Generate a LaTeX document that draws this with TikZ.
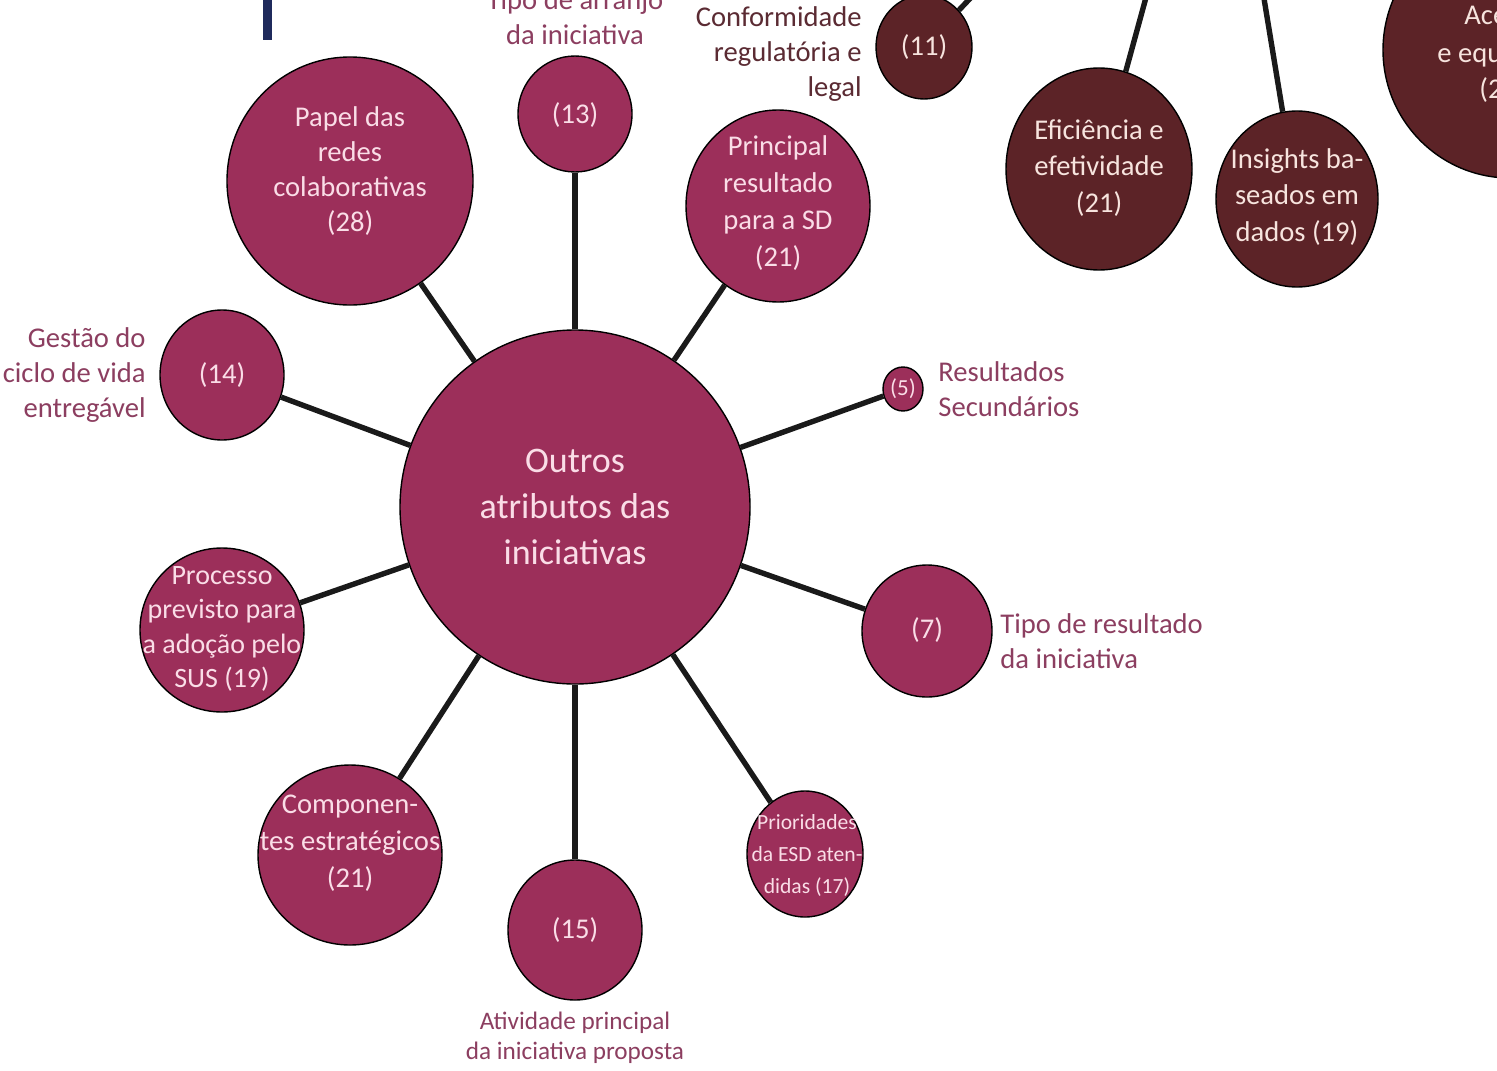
\documentclass[tikz,border=0pt]{standalone}
\usepackage{fontspec}
\setmainfont{Carlito}
\usetikzlibrary{shapes.geometric}
\definecolor{pinkc}{HTML}{9C2F5A}
\definecolor{darkc}{HTML}{5C2327}
\definecolor{labelc}{HTML}{8C3E60}
\definecolor{labeldk}{HTML}{5B2B33}
\definecolor{intext}{HTML}{FADDE7}
\definecolor{intextdk}{HTML}{F7E4DE}
\definecolor{linec}{HTML}{1A1A1A}
\definecolor{navyc}{HTML}{1F2A5C}
\begin{document}
\begin{tikzpicture}[x=0.5pt,y=-0.5pt,
  sz/.style 2 args={minimum width=#1pt, minimum height=#2pt},
  pk/.style={ellipse, draw=black, line width=0.7pt, fill=pinkc, inner sep=0pt},
  dk/.style={ellipse, draw=black, line width=0.7pt, fill=darkc, inner sep=0pt},
  conn/.style={line width=2.7pt, draw=linec},
  fnorm/.style={font=\fontsize{14.3}{17.5}\selectfont},
  fwide/.style={font=\fontsize{14.3}{18.4}\selectfont},
  intxt/.style={fnorm, text=intext, align=center, inner sep=0pt},
  indk/.style={fwide, text=intextdk, align=center, inner sep=0pt},
  lab/.style={fnorm, text=labelc, align=center, inner sep=0pt},
  labdk/.style={fnorm, text=labeldk, align=right, inner sep=0pt}]
\useasboundingbox (0,0) rectangle (1497,1070);
\clip (0,0) rectangle (1497,1070);
\fill[white] (0,0) rectangle (1497,1070);

% navy bar
\fill[navyc] (263,-5) rectangle (272,40);

% circles
\node[pk, sz={175}{177}] (c) at (575,507) {};
\node[pk, sz={123}{124}] (papel) at (350,181) {};
\node[pk, sz={57}{58}] (n13) at (575,114) {};
\node[pk, sz={92}{96}] (princ) at (778,206) {};
\node[dk, sz={48}{52}] (n11) at (924,47) {};
\node[dk, sz={93}{101}] (efic) at (1099,169) {};
\node[dk, sz={81}{88}] (ins) at (1297,199) {};
\node[dk, sz={127}{128}] (aces) at (1510,50) {};
\node[pk, sz={62}{65}] (n14) at (222,375) {};
\node[pk, sz={20}{22}] (n5) at (903,389) {};
\node[pk, sz={65}{66}] (n7) at (927,631) {};
\node[pk, sz={82}{82}] (proc) at (222,630) {};
\node[pk, sz={92}{90}] (comp) at (350,855) {};
\node[pk, sz={67}{70}] (n15) at (575,930) {};
\node[pk, sz={58}{63}] (prio) at (805,854) {};

% free ends of the top connectors
\coordinate (o11) at (1016,-50);
\coordinate (oef) at (1159,-50);
\coordinate (oin) at (1256,-50);

% connectors
\draw[conn] (c) -- (papel);
\draw[conn] (c) -- (n13);
\draw[conn] (c) -- (princ);
\draw[conn] (c) -- (n5);
\draw[conn] (c) -- (n7);
\draw[conn] (c) -- (prio);
\draw[conn] (c) -- (n15);
\draw[conn] (c) -- (comp);
\draw[conn] (c) -- (proc);
\draw[conn] (c) -- (n14);
\draw[conn] (n11) -- (o11);
\draw[conn] (efic) -- (oef);
\draw[conn] (ins) -- (oin);

% texts inside circles
\node[intxt, font=\fontsize{18}{23}\selectfont] (c-t) at (575,507) {Outros\\atributos das\\iniciativas};
\node[intxt] (papel-t) at (350,171) {Papel das\\redes\\colaborativas\\(28)};
\node[intxt] (n13-t) at (575,115) {(13)};
\node[intxt, fwide] (princ-t) at (778,203) {Principal\\resultado\\para a SD\\(21)};
\node[indk] (n11-t) at (924,47) {(11)};
\node[indk] (efic-t) at (1099,168) {Eficiência e\\efetividade\\(21)};
\node[indk] (ins-t) at (1297,197) {Insights ba-\\seados em\\dados (19)};
\node[indk, anchor=base west] (aces-t1) at (1464,25) {Ace};
\node[indk, anchor=base west] (aces-t2) at (1437,63) {e equ};
\node[indk, anchor=base west] (aces-t3) at (1479,98) {(2};
\node[intxt] (n14-t) at (222,375) {(14)};
\node[intxt, font=\fontsize{11.5}{13}\selectfont] (n5-t) at (903,389) {(5)};
\node[intxt] (n7-t) at (927,630) {(7)};
\node[intxt, font=\fontsize{14}{17.2}\selectfont] (proc-t) at (222,629) {Processo\\previsto para\\a adoção pelo\\SUS (19)};
\node[intxt, fwide] (comp-t) at (350,843) {Componen-\\tes estratégicos\\(21)};
\node[intxt] (n15-t) at (575,930) {(15)};
\node[intxt, font=\fontsize{10.8}{16}\selectfont] (prio-t) at (807,855) {Prioridades\\da ESD aten-\\didas (17)};

% outside labels
\node[lab] (n13-l) at (575,17) {Tipo de arranjo\\da iniciativa};
\node[labdk, anchor=east] (n11-l) at (862,54) {Conformidade\\regulatória e\\legal};
\node[lab, anchor=east, align=right] (n14-l) at (146,375) {Gestão do\\ciclo de vida\\entregável};
\node[lab, anchor=west, align=left] (n5-l) at (938,389) {Resultados\\Secundários};
\node[lab, anchor=west, align=left] (n7-l) at (1000,641) {Tipo de resultado\\da iniciativa};
\node[lab, font=\fontsize{12.6}{15}\selectfont] (n15-l) at (575,1038) {Atividade principal\\da iniciativa proposta};
\end{tikzpicture}
\end{document}
